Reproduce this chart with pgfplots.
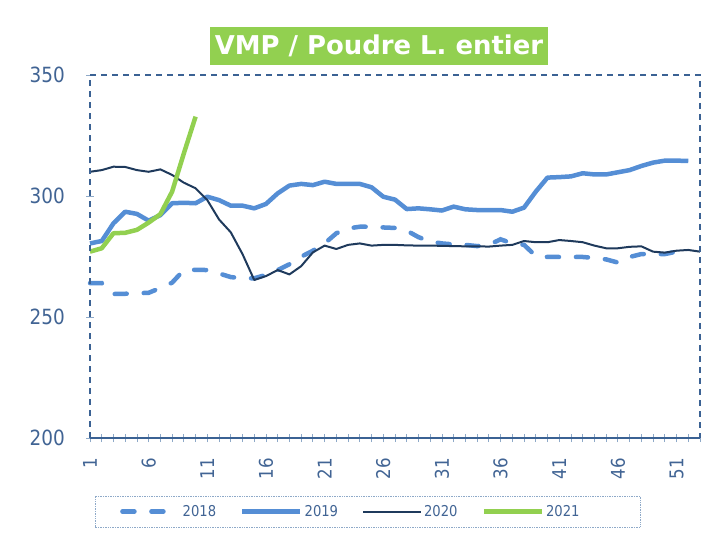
\documentclass[border=0pt]{standalone}
\usepackage{fontspec}
\setmainfont{DejaVu Sans}[FakeStretch=0.88]
\newfontfamily\titlefont{DejaVu Sans}
\usepackage{pgfplots}
\pgfplotsset{compat=1.18}
\definecolor{axcol}{HTML}{3B6294}
\definecolor{tickcol}{HTML}{416494}
\definecolor{ticklight}{HTML}{8EA9C8}
\definecolor{c19}{HTML}{558ED5}
\definecolor{c20}{HTML}{1F3A5C}
\definecolor{c21}{HTML}{92D050}
\begin{document}
\begin{tikzpicture}
\path[use as bounding box] (0,0) rectangle (721bp,554bp);
\draw[ticklight, densely dotted, line width=0.7bp] (95bp,27bp) rectangle (640bp,58bp);
\begin{axis}[
  at={(90bp,116bp)}, anchor=south west,
  scale only axis, width=610bp, height=363bp,
  xmin=1, xmax=53, ymin=200, ymax=350,
  clip=false,
  axis line style={draw=none},
  xtick={1,6,...,51}, minor xtick={1,...,53},
  ytick={200,250,300,350},
  xtick pos=bottom, ytick pos=left,
  tick align=center,
  major tick length=8bp, minor tick length=8bp,
  every tick/.style={ticklight, line width=0.8bp},
  /pgf/number format/assume math mode=true,
  yticklabel style={font=\fontsize{21}{21}\selectfont, text=tickcol, anchor=east, inner sep=0pt},
  yticklabel shift=21bp,
  xticklabel style={font=\fontsize{19}{19}\selectfont, text=tickcol, rotate=90, anchor=east, inner sep=0pt},
  xticklabel shift=16bp,
  legend columns=4,
  legend style={at={(0.0492,-0.2025)}, anchor=west, draw=none, fill=none,
    font=\fontsize{15}{15}\selectfont, text=tickcol, inner xsep=0bp, inner ysep=2bp,
    /tikz/every odd column/.append style={column sep=0bp},
    /tikz/every even column/.append style={column sep=22bp}},
  legend image code/.code={\draw[#1, solid] (0bp,0bp) -- (58bp,0bp);},
]
\addplot[c19, line width=4.5bp, dash pattern=on 12bp off 17bp, line cap=round, legend image code/.code={\draw[c19, line width=4.5bp, dash pattern=on 12bp off 17bp, line cap=round] (2bp,0bp) -- (58bp,0bp);}] coordinates {
(1,264)(2,264)(3,259.5)(4,259.6)(5,259.8)(6,260)(7,262)(8,264.2)(9,269.4)(10,269.5)
(11,269.4)(12,268)(13,266.5)(14,266)(15,266)(16,267.4)(17,269.4)(18,271.8)(19,274.9)(20,277.4)
(21,280.4)(22,284.6)(23,286.6)(24,287.3)(25,287.3)(26,287)(27,286.8)(28,285.7)(29,283)(30,281.2)
(31,280.4)(32,280)(33,279.8)(34,279.3)(35,279.8)(36,282.1)(37,280.4)(38,279.8)(39,275.2)(40,274.8)
(41,274.8)(42,274.8)(43,274.8)(44,274.4)(45,273.8)(46,272.5)(47,274.8)(48,276)(49,276)(50,276)
(51,277)(52,278.4)};
\addlegendentry{2018}
\addplot[c19, line width=4.5bp, line join=round] coordinates {
(1,280.4)(2,281.4)(3,288.7)(4,293.5)(5,292.6)(6,289.8)(7,292.1)(8,297)(9,297.2)(10,297)
(11,299.7)(12,298.3)(13,296)(14,296)(15,294.9)(16,296.7)(17,301.1)(18,304.3)(19,305)(20,304.5)
(21,305.9)(22,305)(23,305)(24,305)(25,303.6)(26,299.7)(27,298.5)(28,294.6)(29,294.9)(30,294.5)
(31,294)(32,295.6)(33,294.5)(34,294.2)(35,294.2)(36,294.2)(37,293.5)(38,295.2)(39,301.8)(40,307.6)
(41,307.8)(42,308.1)(43,309.4)(44,308.9)(45,308.9)(46,309.8)(47,310.7)(48,312.4)(49,313.8)(50,314.6)
(51,314.6)(52,314.5)};
\addlegendentry{2019}
\addplot[c20, line width=2bp, line join=round] coordinates {
(1,310)(2,310.7)(3,312.1)(4,312)(5,310.7)(6,310)(7,311)(8,308.7)(9,305.5)(10,303.2)
(11,298.3)(12,290.3)(13,285)(14,276)(15,265.3)(16,266.9)(17,269.4)(18,267.6)(19,271)(20,276.7)
(21,279.5)(22,278.1)(23,279.8)(24,280.4)(25,279.5)(26,279.8)(27,279.8)(28,279.6)(29,279.5)(30,279.5)
(31,279.4)(32,279.3)(33,279.2)(34,279.2)(35,279.1)(36,279.5)(37,279.8)(38,281.4)(39,280.9)(40,280.9)
(41,281.8)(42,281.4)(43,280.9)(44,279.5)(45,278.4)(46,278.4)(47,279)(48,279.2)(49,277)(50,276.6)
(51,277.4)(52,277.7)(53,277)};
\addlegendentry{2020}
\addplot[c21, line width=4.5bp, line join=round] coordinates {
(1,277)(2,278.4)(3,284.6)(4,284.8)(5,286)(6,289)(7,292.5)(8,301.8)(9,317.6)(10,332.8)};
\addlegendentry{2021}
\draw[axcol, line width=2bp, dash pattern=on 6bp off 5bp] (rel axis cs:0,0) -- (rel axis cs:0,1) -- (rel axis cs:1,1) -- (rel axis cs:1,0);
\draw[axcol, line width=1.2bp] (rel axis cs:0,0) -- (rel axis cs:1,0);
\end{axis}
\node[fill=c21, text=white, font=\titlefont\bfseries\fontsize{26}{26}\selectfont, minimum width=338bp, minimum height=38bp, inner sep=0pt] at (379bp,508bp) {VMP / Poudre L. entier};
\end{tikzpicture}
\end{document}
